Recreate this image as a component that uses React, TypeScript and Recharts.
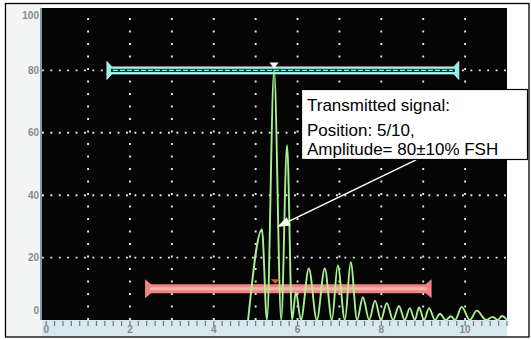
import { ComposedChart, Line, XAxis, YAxis, ReferenceLine, ReferenceDot } from "recharts";

// A-scan trace: positions (screen divisions) and amplitudes (% FSH)
const SIGNAL_X = [
  4.82, 5.15, 5.27, 5.44, 5.61, 5.75, 5.87, 5.96, 6.08, 6.27, 6.46, 6.65, 6.82, 6.96, 7.13, 7.27, 7.42,
  7.56, 7.71, 7.85, 7.99, 8.13, 8.28, 8.42, 8.56, 8.68, 8.8, 8.9, 9.02, 9.14, 9.28, 9.4, 9.54, 9.66, 9.76,
  9.92, 10.11, 10.28, 10.5, 10.66, 10.78, 10.88, 11,
];
const SIGNAL_Y = [
  0, 29, 0, 80, 0, 56, 0, 9, 0, 16.5, 0, 16.5, 0, 17.5, 0, 18.5, 0,
  7.3, 0, 6.2, 0, 5.4, 0, 4.5, 0, 3.8, 0, 4, 0, 3.8, 0, 2, 0, 1.2, 0,
  4.2, 0, 3, 0, 1, 0, 1.3, 0,
];

// gates: [start, end, level]
const GATE_A = [1.45, 9.85, 80];
const GATE_B = [2.36, 9.2, 10];
const PEAK_POS = 5.44;

const Y_TICKS = [0, 20, 40, 60, 80, 100];
const X_LABELS = [0, 2, 4, 6, 8, 10];
const X_MINOR = Array.from({ length: 56 }, (_, i) => Math.round(i * 2) / 10);
const GRID_X = [1, 2, 3, 4, 5, 6, 7, 8, 9, 10];
const GRID_Y = [20, 40, 60, 80];

// arrow from the callout box down to the main echo
const ARROW = [
  { x: 8.83, y: 51.3 },
  { x: 5.51, y: 29.8 },
];

const NOTE_LINES = ["Transmitted signal:", "Position: 5/10,", "Amplitude= 80±10% FSH"];

const data = SIGNAL_X.map((x, i) => ({ x, v: SIGNAL_Y[i] }));

const LABEL_GRAY = "#8a8a8a";
const TRACE = "#a9f090";
const CYAN = "#8ef0ea";
const SALMON = "#ef8580";

function YTick({ x, y, payload }: any) {
  const v = payload.value;
  const dy = v === 100 ? 7 : v === 0 ? -10 : 0;
  return (
    <text x={x} y={y + dy} dy={3.5} textAnchor="end" fontSize={10} fontWeight="bold" fill={LABEL_GRAY} fontFamily="Liberation Sans, Arial, sans-serif">
      {v}
    </text>
  );
}

function XTick({ x, y, payload }: any) {
  const v = payload.value;
  const showLabel = X_LABELS.includes(v);
  return (
    <g>
      <line x1={x} x2={x} y1={y + 1} y2={y + 6} stroke="#6b7880" strokeWidth={1.2} />
      {showLabel && (
        <text x={x} y={y + 13} textAnchor="middle" fontSize={10} fontWeight="bold" fill={LABEL_GRAY} fontFamily="Liberation Sans, Arial, sans-serif">
          {v}
        </text>
      )}
    </g>
  );
}

function CyanGate({ x1, y1, x2 }: any) {
  const y = y1;
  return (
    <g>
      <path
        d={`M${x1},${y - 9} L${x1},${y + 9} L${x1 + 5},${y + 3.5} L${x2 - 5},${y + 3.5} L${x2},${y + 9} L${x2},${y - 9} L${x2 - 5},${y - 3.5} L${x1 + 5},${y - 3.5} Z`}
        fill={CYAN}
        stroke="#dcfffd"
        strokeWidth={0.8}
      />
      <rect x={x1 + 4} y={y - 1.6} width={x2 - x1 - 8} height={3.2} fill="#123230" />
      <line x1={x1 + 6} x2={x2 - 6} y1={y} y2={y} stroke={CYAN} strokeWidth={1.2} strokeDasharray="5 2" />
    </g>
  );
}

function SalmonGate({ x1, y1, x2 }: any) {
  const y = y1;
  return (
    <g>
      <path
        d={`M${x1},${y - 9.5} L${x1},${y + 9.5} L${x1 + 6},${y + 4.5} L${x2 - 6},${y + 4.5} L${x2},${y + 9.5} L${x2},${y - 9.5} L${x2 - 6},${y - 4.5} L${x1 + 6},${y - 4.5} Z`}
        fill={SALMON}
      />
      <line x1={x1 + 5} x2={x2 - 5} y1={y} y2={y} stroke="#f6b0aa" strokeWidth={3} />
    </g>
  );
}

function CyanMarker({ cx, cy }: any) {
  return <path d={`M${cx - 4.5},${cy - 8} L${cx + 4.5},${cy - 8} L${cx},${cy - 2} Z`} fill="#ffffff" />;
}

function SalmonMarker({ cx, cy }: any) {
  return <path d={`M${cx - 4.5},${cy - 9.5} L${cx + 4.5},${cy - 9.5} L${cx},${cy - 5} Z`} fill="#d9534f" />;
}

function Arrow({ x1, y1, x2, y2 }: any) {
  const ang = Math.atan2(y2 - y1, x2 - x1);
  const len = 13;
  const half = 4.5;
  const bx = x2 - len * Math.cos(ang);
  const by = y2 - len * Math.sin(ang);
  const px = -Math.sin(ang) * half;
  const py = Math.cos(ang) * half;
  return (
    <g>
      <line x1={x1} y1={y1} x2={bx} y2={by} stroke="#ffffff" strokeWidth={1.5} />
      <path d={`M${x2},${y2} L${bx + px},${by + py} L${bx - px},${by - py} Z`} fill="#ffffff" />
    </g>
  );
}

export default function App() {
  return (
    <div style={{ position: "absolute", left: 0, top: 0, width: 531, height: 340, background: "#ffffff", overflow: "hidden" }}>
      <div style={{ position: "absolute", left: 5, top: 3, width: 37, height: 334, background: "#f3f5f5" }} />
      <div style={{ position: "absolute", left: 40, top: 8, width: 2, height: 312, background: "#7d99a8" }} />
      <div style={{ position: "absolute", left: 42, top: 8, width: 465, height: 312, background: "#050505" }} />
      <div style={{ position: "absolute", left: 42, top: 320, width: 465, height: 17, background: "#d9e7ef" }} />

      <div style={{ position: "absolute", left: 0, top: 0 }}>
        <ComposedChart width={531} height={340} data={data} margin={{ top: 8, right: 24, bottom: 8, left: 0 }}>
          <XAxis
            type="number"
            dataKey="x"
            domain={[-0.1, 11]}
            ticks={X_MINOR}
            interval={0}
            height={12}
            tickSize={0}
            tickMargin={0}
            axisLine={false}
            tickLine={false}
            tick={<XTick />}
          />
          <YAxis
            type="number"
            domain={[0, 100]}
            ticks={Y_TICKS}
            interval={0}
            width={42}
            tickSize={0}
            tickMargin={3}
            axisLine={false}
            tickLine={false}
            tick={<YTick />}
          />
          {GRID_Y.map((v) => (
            <ReferenceLine key={`gy${v}`} y={v} stroke="#e6e6e6" strokeWidth={1.9} strokeDasharray="1.9 6.5" />
          ))}
          {GRID_X.map((v) => (
            <ReferenceLine key={`gx${v}`} x={v} stroke="#e6e6e6" strokeWidth={1.9} strokeDasharray="1.9 10.6" />
          ))}
          <ReferenceLine
            segment={[
              { x: GATE_B[0], y: GATE_B[2] },
              { x: GATE_B[1], y: GATE_B[2] },
            ]}
            ifOverflow="visible"
            shape={<SalmonGate />}
          />
          <ReferenceLine
            segment={[
              { x: GATE_A[0], y: GATE_A[2] },
              { x: GATE_A[1], y: GATE_A[2] },
            ]}
            ifOverflow="visible"
            shape={<CyanGate />}
          />
          <Line type="monotone" dataKey="v" stroke={TRACE} strokeWidth={1.9} dot={false} activeDot={false} isAnimationActive={false} />
          <ReferenceDot x={PEAK_POS} y={GATE_A[2]} ifOverflow="visible" shape={<CyanMarker />} />
          <ReferenceDot x={PEAK_POS + 0.03} y={GATE_B[2]} ifOverflow="visible" shape={<SalmonMarker />} />
          <ReferenceLine segment={ARROW} ifOverflow="visible" shape={<Arrow />} />
        </ComposedChart>
      </div>

      <svg width={531} height={340} style={{ position: "absolute", left: 0, top: 0, pointerEvents: "none" }}>
        <rect x={301.5} y={89.5} width={226} height={70} fill="#ffffff" stroke="#000000" strokeWidth={1.2} />
        {NOTE_LINES.map((t, i) => (
          <text key={t} x={307} y={[111, 136, 155][i]} fontSize={17} fill="#000000" fontFamily="Liberation Sans, Arial, sans-serif">
            {t}
          </text>
        ))}
        <rect x={5.5} y={3.5} width={523.5} height={333.5} fill="none" stroke="#000000" strokeWidth={1.3} />
      </svg>
    </div>
  );
}
